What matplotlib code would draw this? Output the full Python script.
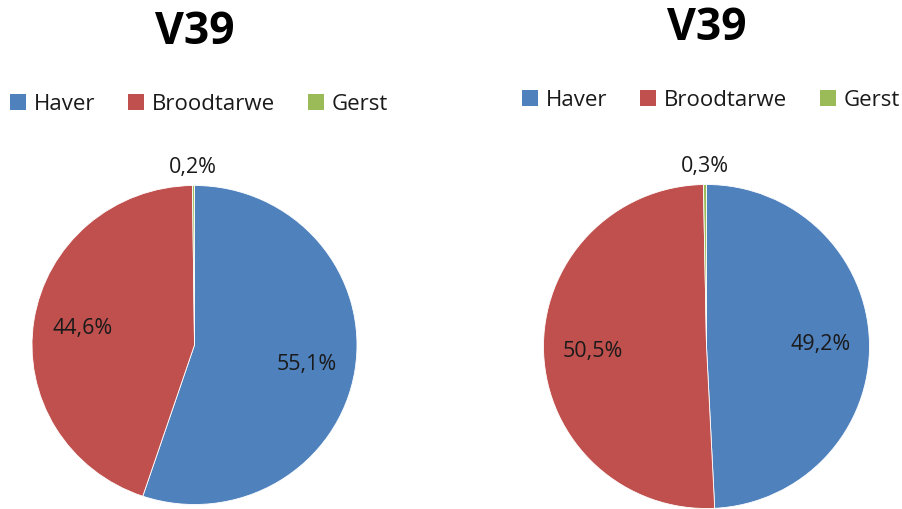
import numpy as np
import matplotlib.pyplot as plt
from matplotlib.patches import Patch

# data
categories = ['Haver', 'Broodtarwe', 'Gerst']
left_values = [55.1, 44.6, 0.2]
right_values = [49.2, 50.5, 0.3]
titles = ['V39', 'V39']

colors = ['#4F81BD', '#C0504D', '#9BBB59']
plt.rcParams['font.family'] = ['Open Sans', 'DejaVu Sans']

W, H = 902, 510
fig = plt.figure(figsize=(W / 100, H / 100), dpi=100)


def draw_pie(values, title, cx, cy, rx, ry, title_y, legend_y):
    # axes placed so that the pie centre / radius land in pixel space
    ax = fig.add_axes([(cx - rx) / W, 1 - (cy + ry) / H,
                       2 * rx / W, 2 * ry / H])
    wedges, _ = ax.pie(values, colors=colors, startangle=90,
                       counterclock=False, radius=1.0,
                       wedgeprops=dict(linewidth=0.6, edgecolor='white'))
    ax.set_xlim(-1, 1)
    ax.set_ylim(-1, 1)
    ax.set_aspect('auto')
    ax.axis('off')
    for w, v in zip(wedges, values):
        mid = np.radians((w.theta1 + w.theta2) / 2)
        dist = 0.70 if v > 5 else 1.12
        ax.text(dist * np.cos(mid), dist * np.sin(mid),
                '{:.1f}%'.format(v).replace('.', ','),
                ha='center', va='center', fontsize=15.5, color='#1a1a1a',
                clip_on=False)
    fig.text(cx / W, 1 - title_y / H, title, ha='center', va='center',
             fontsize=32, fontweight='bold', color='black')
    handles = [Patch(facecolor=c, edgecolor='none') for c in colors]
    fig.legend(handles, categories, loc='center',
               bbox_to_anchor=(cx / W + 0.005, 1 - legend_y / H),
               ncol=3, frameon=False, fontsize=16,
               handlelength=0.7, handleheight=0.7, handletextpad=0.35,
               columnspacing=1.5, labelcolor='#1a1a1a')


draw_pie(left_values, titles[0], 194.5, 346, 162.5, 159.5, 32, 105)
draw_pie(right_values, titles[1], 706.5, 347.5, 163, 162, 28, 101)

fig.savefig('out.png', dpi=100)
